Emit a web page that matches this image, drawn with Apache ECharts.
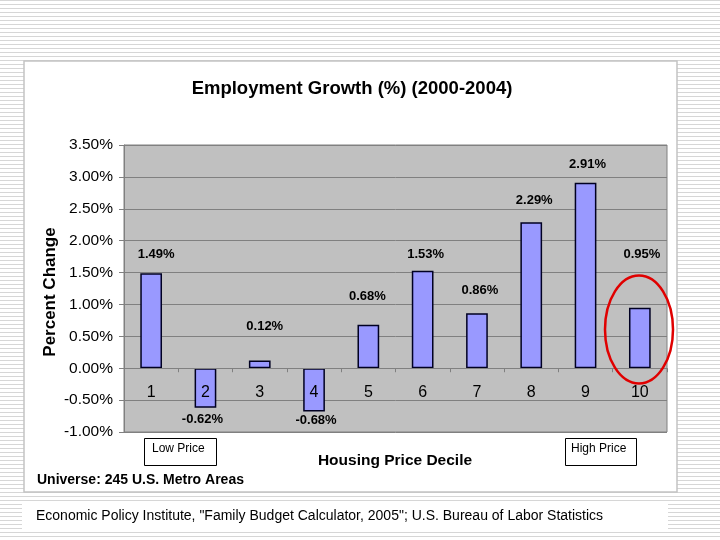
<!DOCTYPE html>
<html>
<head>
<meta charset="utf-8">
<script src="https://cdn.jsdelivr.net/npm/echarts@6/dist/echarts.min.js"></script>
<style>
  html, body { margin: 0; padding: 0; }
  body {
    width: 720px; height: 540px; overflow: hidden;
    background: repeating-linear-gradient(to bottom, #d6d6d6 0px, #d6d6d6 1px, #ffffff 1px, #ffffff 4px);
  }
  #chart { width: 720px; height: 540px; }
</style>
</head>
<body>
<div id="chart"></div>
<script>
// ---- data ----
const categories = ['1', '2', '3', '4', '5', '6', '7', '8', '9', '10'];
const growth = [1.49, -0.62, 0.12, -0.68, 0.68, 1.53, 0.86, 2.29, 2.91, 0.95];
const yMin = -1.0;
const yMax = 3.5;
const yStep = 0.5;

const titleText = 'Employment Growth (%) (2000-2004)';
const yAxisTitle = 'Percent Change';
const xAxisTitle = 'Housing Price Decile';
const lowLabel = 'Low Price';
const highLabel = 'High Price';
const universeText = 'Universe: 245 U.S. Metro Areas';
const sourceText = 'Economic Policy Institute, "Family Budget Calculator, 2005"; U.S. Bureau of Labor Statistics';

// ---- styles ----
const FONT = "'Liberation Sans', Arial, sans-serif";
const GRID = { left: 124, top: 145, width: 543, height: 287 };
const labelOffsets = [[5, -12], [-3, 5], [5, -28], [2, 2], [-1, -22], [3, -10], [3, -16], [3, -15], [2, -12], [2, -47]];
// move the category axis (line, ticks, labels) up to the zero value of the y scale
const zeroOffset = -((0 - yMin) / (yMax - yMin)) * GRID.height;

const chart = echarts.init(document.getElementById('chart'));

const option = {
  animation: false,
  grid: Object.assign({ show: true, backgroundColor: '#c0c0c0', borderColor: '#808080', borderWidth: 1 }, GRID),
  xAxis: {
    type: 'category',
    data: categories,
    position: 'bottom',
    offset: zeroOffset,
    z: 5,
    axisLine: { show: true, onZero: false, lineStyle: { color: '#808080', width: 1 } },
    axisTick: { show: true, alignWithLabel: false, length: 4, lineStyle: { color: '#808080' } },
    axisLabel: { color: '#000', fontSize: 16, fontFamily: FONT, margin: 16 },
    splitLine: { show: false }
  },
  yAxis: {
    type: 'value',
    min: yMin, max: yMax, interval: yStep,
    axisLine: { show: true, lineStyle: { color: '#808080' } },
    axisTick: { show: true, length: 5, lineStyle: { color: '#808080' } },
    axisLabel: {
      color: '#000', fontSize: 15.5, fontFamily: FONT, margin: 11,
      formatter: v => v.toFixed(2) + '%'
    },
    splitLine: { show: true, lineStyle: { color: '#808080', width: 1 } }
  },
  series: [{
    type: 'bar',
    barWidth: '40%',
    data: growth.map((v, i) => ({
      value: v,
      label: { position: v < 0 ? 'bottom' : 'top', offset: labelOffsets[i] }
    })),
    itemStyle: { color: '#9999ff', borderColor: '#000022', borderWidth: 1.5 },
    label: {
      show: true, distance: 0, color: '#000', fontSize: 13, fontWeight: 'bold', fontFamily: FONT,
      formatter: p => p.value.toFixed(2) + '%'
    }
  }],
  graphic: [
    { type: 'rect', z: -10, shape: { x: 24, y: 61, width: 653, height: 431 },
      style: { fill: '#ffffff', stroke: '#c4c4c4', lineWidth: 1.5 } },
    { type: 'rect', z: -10, shape: { x: 22, y: 503, width: 646, height: 28 },
      style: { fill: '#ffffff' } },
    { type: 'text', x: 352, y: 89, style: { text: titleText, font: 'bold 18.5px ' + FONT, fill: '#000', align: 'center', verticalAlign: 'middle' } },
    { type: 'text', x: 50, y: 292, rotation: Math.PI / 2, style: { text: yAxisTitle, font: 'bold 17px ' + FONT, fill: '#000', align: 'center', verticalAlign: 'middle' } },
    { type: 'text', x: 395, y: 461, style: { text: xAxisTitle, font: 'bold 15.5px ' + FONT, fill: '#000', align: 'center', verticalAlign: 'middle' } },
    { type: 'rect', shape: { x: 144.5, y: 438.5, width: 72, height: 27 }, style: { fill: '#fff', stroke: '#000', lineWidth: 1 } },
    { type: 'text', x: 152, y: 449, style: { text: lowLabel, font: '12px ' + FONT, fill: '#000', align: 'left', verticalAlign: 'middle' } },
    { type: 'rect', shape: { x: 565.5, y: 438.5, width: 71, height: 27 }, style: { fill: '#fff', stroke: '#000', lineWidth: 1 } },
    { type: 'text', x: 571, y: 449, style: { text: highLabel, font: '12px ' + FONT, fill: '#000', align: 'left', verticalAlign: 'middle' } },
    { type: 'text', x: 37, y: 480, style: { text: universeText, font: 'bold 14px ' + FONT, fill: '#000', align: 'left', verticalAlign: 'middle' } },
    { type: 'text', x: 36, y: 516, style: { text: sourceText, font: '14px ' + FONT, fill: '#000', align: 'left', verticalAlign: 'middle' } },
    { type: 'ellipse', z: 100, shape: { cx: 639, cy: 329.5, rx: 34, ry: 54 },
      style: { fill: 'none', stroke: '#e00000', lineWidth: 2.5 } }
  ]
};

chart.setOption(option);
</script>
</body>
</html>
